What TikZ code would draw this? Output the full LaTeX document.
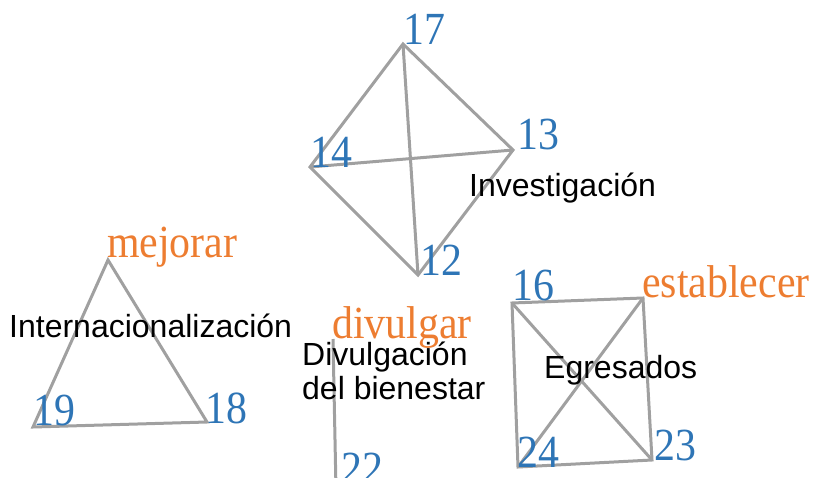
\documentclass[tikz,border=0pt]{standalone}
\usepackage{fontspec}
\setmainfont{Liberation Serif}
\newfontfamily\digitfont[FakeStretch=0.91]{Liberation Serif}
\newfontfamily\labelfont{Liberation Sans}
\usepackage{tikz}
\definecolor{numblue}{HTML}{2E75B6}
\definecolor{verborange}{HTML}{ED7D31}
\definecolor{edgegray}{HTML}{A0A0A0}

\begin{document}
\begin{tikzpicture}[x=1pt,y=-1pt,
	edge/.style={draw=edgegray,line width=3pt},
	num/.style={anchor=base west,inner sep=0pt,text=numblue,font=\digitfont\fontsize{46}{46}\selectfont},
	verb/.style={anchor=base west,inner sep=0pt,text=verborange,font=\digitfont\fontsize{46}{46}\selectfont},
	topic/.style={anchor=base west,inner sep=0pt,align=left,font=\labelfont\fontsize{32}{34}\selectfont}]
	\useasboundingbox (0,0) rectangle (817,477);
	\clip (0,0) rectangle (817,477);
	
	%vertices
	\coordinate (v17) at (403,44);
	\coordinate (v14) at (310,167);
	\coordinate (v13) at (513,150);
	\coordinate (v12) at (418,275);
	\coordinate (vmej) at (108,260);
	\coordinate (v19) at (33,427);
	\coordinate (v18) at (207,422);
	\coordinate (vdiv) at (333,339);
	\coordinate (v22) at (336,490);
	\coordinate (v16) at (512,303);
	\coordinate (vest) at (643,298);
	\coordinate (v23) at (652,460);
	\coordinate (v24) at (518,467);
	
	%lines
	\draw[edge] (v17)--(v14)--(v12)--(v13)--cycle;
	\draw[edge] (v17)--(v12);
	\draw[edge] (v14)--(v13);
	\draw[edge] (vmej)--(v19)--(v18)--cycle;
	\draw[edge] (vdiv)--(v22);
	\draw[edge] (v16)--(vest)--(v23)--(v24)--cycle;
	\draw[edge] (v16)--(v23);
	\draw[edge] (vest)--(v24);
	
	%numbers
	\node[num] (n17) at (403,44)  {17};
	\node[num] (n14) at (310,167) {14};
	\node[num] (n13) at (517,149) {13};
	\node[num] (n12) at (420,275) {12};
	\node[num] (n19) at (33,425)  {19};
	\node[num] (n18) at (205,423) {18};
	\node[num] (n22) at (341,483) {22};
	\node[num] (n16) at (512,300) {16};
	\node[num] (n24) at (517,467) {24};
	\node[num] (n23) at (654,460) {23};
	
	%verbs
	\node[verb] (mejorar) at (107,257)    {mejorar};
	\node[verb] (divulgar) at (332,338)   {divulgar};
	\node[verb] (establecer) at (642,297) {establecer};
	
	%topics
	\node[topic] (investigacion) at (469,196) {Investigación};
	\node[topic] (internac) at (9,337)        {Internacionalización};
	\node[topic] (bienestar) at (302,399)     {Divulgación\\del bienestar};
	\node[topic] (egresados) at (544,378)     {Egresados};
\end{tikzpicture}
\end{document}
